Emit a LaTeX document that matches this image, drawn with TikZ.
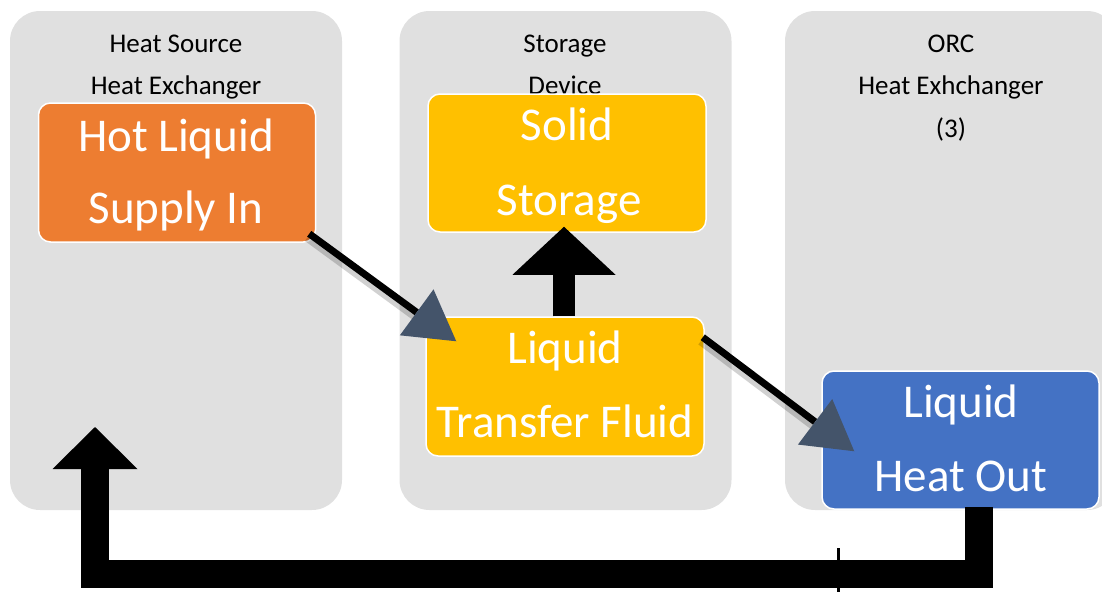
\documentclass[tikz,border=0pt]{standalone}
\usepackage{fontspec}
\setmainfont{Carlito}
\usetikzlibrary{arrows.meta,calc}
\definecolor{panelgray}{HTML}{E0E0E0}
\definecolor{orangebox}{HTML}{ED7D31}
\definecolor{yellowbox}{HTML}{FFC000}
\definecolor{bluebox}{HTML}{4472C4}
\definecolor{slate}{HTML}{44546A}
\begin{document}
\begin{tikzpicture}[x=1pt,y=-1pt,
  panel/.style={fill=panelgray, rounded corners=30pt, minimum width=332pt, minimum height=499pt, inner sep=0pt},
  colorbox/.style={draw=white, line width=1.5pt, rounded corners=12pt, minimum width=278pt, minimum height=139pt, inner sep=0pt},
  headtext/.style={font=\fontsize{27}{32}\selectfont, text=black, anchor=base, inner sep=0pt},
  boxtext/.style={font=\fontsize{47}{55}\selectfont, text=white, anchor=base, inner sep=0pt},
  thinarrow/.style={line width=7pt, draw=black, -{Triangle[length=49pt,width=57pt,line width=0pt,color=slate,fill=slate]}},
  thinshadow/.style={line width=8pt, draw=black, opacity=0.18, shorten >=40pt},
  fatarrow/.style={draw=black, line join=miter}
]
\useasboundingbox (0,0) rectangle (1102,592);
\clip (0,0) rectangle (1102,592);

% panels
\node[panel] (p1) at (176,260.5) {};
\node[panel] (p2) at (565.5,260.5) {};
\node[panel] (p3) at (951,260.5) {};

% headings
\node[headtext] (h1a) at (176,52) {Heat Source};
\node[headtext] (h1b) at (176,94) {Heat Exchanger};
\node[headtext] (h2a) at (565,52) {Storage};
\node[headtext] (h2b) at (565,94) {Device};
\node[headtext] (h3a) at (951,52) {ORC};
\node[headtext] (h3b) at (951,94) {Heat Exhchanger};
\node[headtext] (h3c) at (951,137) {(3)};

% coloured boxes
\node[colorbox, fill=orangebox, minimum width=277pt] (hot) at (177,172.5) {};
\node[colorbox, fill=yellowbox, minimum height=138pt] (solid) at (567,163) {};
\node[colorbox, fill=yellowbox] (transfer) at (565,386.5) {};
\node[colorbox, fill=bluebox, minimum width=277pt, minimum height=138pt] (out) at (960.5,440) {};

% box texts
\node[boxtext] (t1) at (176,151) {Hot Liquid};
\node[boxtext] (t2) at (176,223) {Supply In};
\node[boxtext] (t3) at (567,140) {Solid};
\node[boxtext] (t4) at (569,215) {Storage};
\node[boxtext] (t5) at (565,363) {Liquid};
\node[boxtext] (t6) at (565,437) {Transfer Fluid};
\node[boxtext] (t7) at (961,417) {Liquid};
\node[boxtext] (t8) at (961,491) {Heat Out};

% thin arrows (with soft shadow)
\draw[thinshadow] ($(hot.south east)+(-9,-5)$) -- ($(transfer.north west)+(29,29)$);
\draw[thinshadow] ($(transfer.north east)+(-4,25)$) -- ($(out.north west)+(31,85)$);
\draw[thinarrow] ($(hot.south east)+(-7,-9)$) -- ($(transfer.north west)+(31,25)$);
\draw[thinarrow] ($(transfer.north east)+(-2,21)$) -- ($(out.north west)+(33,81)$);

% fat up arrow
\draw[fatarrow, line width=22pt, -{Triangle[length=48pt,width=103pt,line width=0pt]}]
  ($(transfer.north)+(-1,0)$) -- ($(solid.south)+(-3,-6)$);

% return arrow
\coordinate (retend) at (95,427);
\draw[fatarrow, line width=28pt, -{Triangle[length=42pt,width=85pt,line width=0pt]}]
  ($(out.south)+(18.5,-3)$) -- ++(0,67) -| (retend);

% small tick
\coordinate (ticktop) at (838,548);
\coordinate (tickbot) at (838,592);
\draw[line width=3pt] (ticktop) -- (tickbot);
\end{tikzpicture}
\end{document}
